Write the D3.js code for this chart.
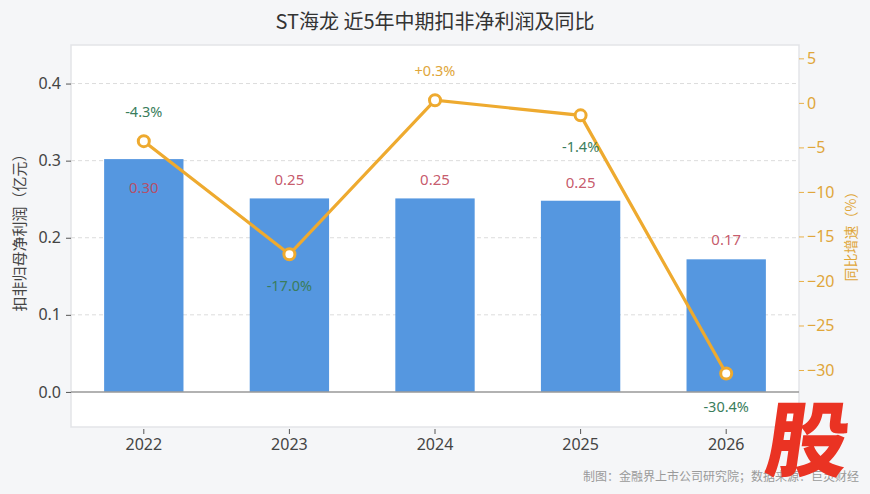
<!DOCTYPE html>
<html>
<head>
<meta charset="utf-8">
<script src="https://cdn.jsdelivr.net/npm/d3@7"></script>
<style>
  body { margin: 0; background: #f5f6f8; }
  svg { display: block; font-family: "Noto Sans CJK SC", "Noto Sans", sans-serif; }
</style>
</head>
<body>
<svg width="870" height="494"></svg>
<script>
// data
var years = ["2022", "2023", "2024", "2025", "2026"];
var profit = [0.302, 0.251, 0.251, 0.248, 0.172];
var profitLabels = ["0.30", "0.25", "0.25", "0.25", "0.17"];
var growth = [-4.3, -17.0, 0.3, -1.4, -30.4];
var growthLabels = ["-4.3%", "-17.0%", "+0.3%", "-1.4%", "-30.4%"];
var leftTicks = [0.0, 0.1, 0.2, 0.3, 0.4];
var rightTicks = [5, 0, -5, -10, -15, -20, -25, -30];

var width = 870, height = 494;
var margin = { top: 45, right: 71, bottom: 67, left: 71 };
var innerW = width - margin.left - margin.right;
var innerH = height - margin.top - margin.bottom;

var svg = d3.select("svg");

// title
svg.append("text")
  .attr("x", width / 2).attr("y", 29)
  .attr("text-anchor", "middle")
  .attr("font-size", 20).attr("fill", "#333")
  .text("ST海龙 近5年中期扣非净利润及同比");

var g = svg.append("g")
  .attr("transform", "translate(" + margin.left + "," + margin.top + ")");

// plot background
g.append("rect")
  .attr("width", innerW).attr("height", innerH)
  .attr("fill", "#fff").attr("stroke", "#e3e5e8").attr("stroke-width", 1.5);

var x = d3.scaleBand().domain(years).range([0, innerW]);
var y = d3.scaleLinear().domain([-0.0455, 0.45]).range([innerH, 0]);
var y2 = d3.scaleLinear().domain([-36.4, 6.5]).range([innerH, 0]);

// gridlines from left axis
g.selectAll(".grid").data(leftTicks.filter(d => d > 0))
  .enter().append("line")
  .attr("x1", 0).attr("x2", innerW)
  .attr("y1", d => y(d)).attr("y2", d => y(d))
  .attr("stroke", "#dcdcdc").attr("stroke-dasharray", "4,3");

// bars
var barW = x.bandwidth() * 0.545;
g.selectAll(".bar").data(profit)
  .enter().append("rect")
  .attr("x", (d, i) => x(years[i]) + (x.bandwidth() - barW) / 2)
  .attr("y", d => y(d))
  .attr("width", barW)
  .attr("height", d => y(0) - y(d))
  .attr("fill", "#5597e0");

// zero line
g.append("line")
  .attr("x1", 0).attr("x2", innerW)
  .attr("y1", y(0)).attr("y2", y(0))
  .attr("stroke", "#999").attr("stroke-width", 1.5);

// left axis
var yAxis = g.append("g")
  .call(d3.axisLeft(y).tickValues(leftTicks).tickFormat(d3.format(".1f")).tickSize(5).tickPadding(5));
yAxis.select(".domain").remove();
yAxis.selectAll("line").attr("stroke", "#555");
yAxis.selectAll("text").attr("font-size", 16).attr("fill", "#444")
  .attr("font-family", "'Noto Sans', sans-serif");

// right axis
var y2Axis = g.append("g")
  .attr("transform", "translate(" + innerW + ",0)")
  .call(d3.axisRight(y2).tickValues(rightTicks).tickSize(5).tickPadding(3));
y2Axis.select(".domain").remove();
y2Axis.selectAll("line").attr("stroke", "#e8b04a");
y2Axis.selectAll("text").attr("font-size", 16).attr("fill", "#e0a63a")
  .attr("font-family", "'Noto Sans', sans-serif");

// x axis
var xAxis = g.append("g")
  .attr("transform", "translate(0," + (innerH + 2) + ")")
  .call(d3.axisBottom(x).tickSize(5).tickPadding(5));
xAxis.select(".domain").remove();
xAxis.selectAll("line").attr("stroke", "#555");
xAxis.selectAll("text").attr("font-size", 16).attr("fill", "#444")
  .attr("font-family", "'Noto Sans', sans-serif");

// axis titles
svg.append("text")
  .attr("transform", "translate(25," + (margin.top + innerH / 2 - 7) + ") rotate(-90)")
  .attr("text-anchor", "middle").attr("font-size", 15).attr("fill", "#444")
  .text("扣非归母净利润（亿元）");
svg.append("text")
  .attr("transform", "translate(856," + (margin.top + innerH / 2 - 3) + ") rotate(-90)")
  .attr("text-anchor", "middle").attr("font-size", 14).attr("fill", "#e0a63a")
  .text("同比增速（%）");

// growth line
var cx = (d, i) => x(years[i]) + x.bandwidth() / 2;
var line = d3.line().x(cx).y(d => y2(d));
g.append("path")
  .datum(growth)
  .attr("d", line)
  .attr("fill", "none")
  .attr("stroke", "#eeaa2f").attr("stroke-width", 3.2);

g.selectAll(".dot").data(growth)
  .enter().append("circle")
  .attr("cx", cx).attr("cy", d => y2(d))
  .attr("r", 5.5)
  .attr("fill", "#fff").attr("stroke", "#eeaa2f").attr("stroke-width", 3);

// bar labels (first one sits inside the bar)
var barLabelDy = [34, -13, -13, -13, -14];
g.selectAll(".blab").data(profit)
  .enter().append("text")
  .attr("x", cx).attr("y", (d, i) => y(d) + barLabelDy[i])
  .attr("text-anchor", "middle")
  .attr("font-size", 15).attr("fill", "#c0475a").attr("fill-opacity", 0.9)
  .attr("font-family", "'Noto Sans', sans-serif")
  .text((d, i) => profitLabels[i]);

// growth labels
var growthDy = [-24, 37, -24, 37, 38];
g.selectAll(".glab").data(growth)
  .enter().append("text")
  .attr("x", cx).attr("y", (d, i) => y2(d) + growthDy[i])
  .attr("text-anchor", "middle")
  .attr("font-size", 14.5)
  .attr("fill", d => d >= 0 ? "#e0a63a" : "#3a7d5c")
  .attr("font-family", "'Noto Sans', sans-serif")
  .text((d, i) => growthLabels[i]);

// footer
svg.append("text")
  .attr("x", 859).attr("y", 481)
  .attr("text-anchor", "end")
  .attr("font-size", 12).attr("fill", "#9a9a9a")
  .text("制图：金融界上市公司研究院；数据来源：巨灵财经");

// watermark glyph
svg.append("text")
  .attr("transform", "translate(804,470) skewX(-8)")
  .attr("text-anchor", "middle")
  .attr("font-size", 82).attr("font-weight", 900)
  .attr("fill", "#ea3323")
  .text("股");
</script>
</body>
</html>
